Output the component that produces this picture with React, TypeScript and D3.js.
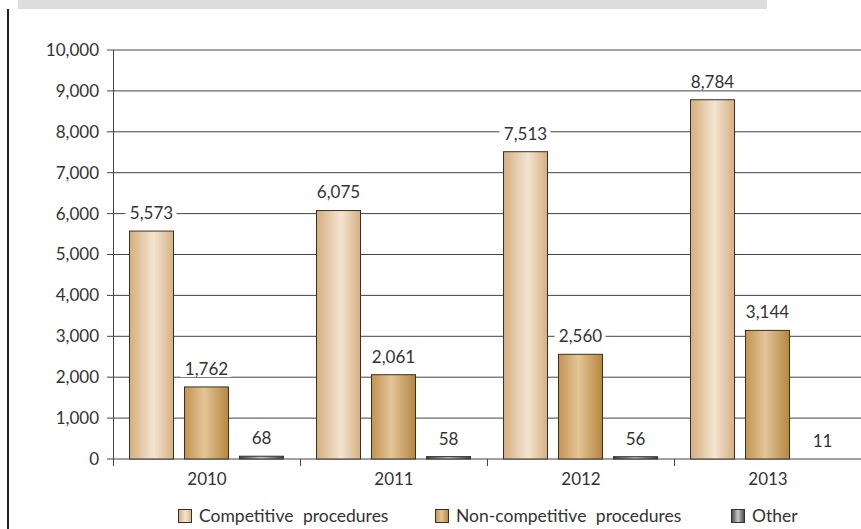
import React from "react";
import * as d3 from "d3";

const years = ["2010", "2011", "2012", "2013"];
const seriesNames = ["Competitive procedures", "Non-competitive procedures", "Other"];
const competitive = [5573, 6075, 7513, 8784];
const nonCompetitive = [1762, 2061, 2560, 3144];
const other = [68, 58, 56, 11];
const yTicks = [0, 1000, 2000, 3000, 4000, 5000, 6000, 7000, 8000, 9000, 10000];

const W = 861;
const H = 529;
const FONT = "Lato, 'Open Sans', sans-serif";
const TXT = "#333";

export default function App() {
  const x = d3.scaleBand().domain(years).range([113, 861]).paddingInner(0).paddingOuter(0);
  const y = d3.scaleLinear().domain([0, 10000]).range([459, 50]);
  const inner = d3.scaleBand().domain(["0", "1", "2"]).range([16, 170]).paddingInner(0.2).paddingOuter(0);
  const fmt = d3.format(",");
  const series = [competitive, nonCompetitive, other];
  const fills = ["url(#gComp)", "url(#gNon)", "url(#gOther)"];

  return (
    <svg width={W} height={H} style={{ position: "absolute", left: 0, top: 0, background: "#fff" }}>
      <defs>
        <linearGradient id="gComp" x1="0" x2="1" y1="0" y2="0">
          <stop offset="0" stopColor="#d5ae7f" />
          <stop offset="0.55" stopColor="#f3e5d0" />
          <stop offset="1" stopColor="#d6b083" />
        </linearGradient>
        <linearGradient id="gNon" x1="0" x2="1" y1="0" y2="0">
          <stop offset="0" stopColor="#c4934f" />
          <stop offset="0.45" stopColor="#e3c598" />
          <stop offset="1" stopColor="#b5873f" />
        </linearGradient>
        <linearGradient id="gOther" x1="0" x2="1" y1="0" y2="0">
          <stop offset="0" stopColor="#444" />
          <stop offset="0.5" stopColor="#c8c8c8" />
          <stop offset="1" stopColor="#444" />
        </linearGradient>
      </defs>
      <rect x={18} y={0} width={749} height={9} fill="#dcdddf" />
      <rect x={7} y={9} width={2} height={H - 9} fill="#222" />

      {yTicks.map((t) => (
        <g key={t}>
          <line x1={107} x2={W} y1={y(t)} y2={y(t)} stroke="#444" strokeWidth={1} />
          <text x={99} y={y(t)} dy="0.35em" textAnchor="end" fontFamily={FONT} fontSize={17} fill={TXT}>
            {fmt(t)}
          </text>
        </g>
      ))}
      <line x1={113.5} x2={113.5} y1={50} y2={466} stroke="#444" />
      {years.map((yr) => (
        <line key={yr} x1={x(yr)! + x.bandwidth() + 0.5} x2={x(yr)! + x.bandwidth() + 0.5} y1={459} y2={466} stroke="#444" />
      ))}

      {years.map((yr, i) =>
        series.map((s, j) => {
          const bx = x(yr)! + inner(String(j))!;
          const bw = inner.bandwidth();
          const top = y(s[i]);
          const h = y(0) - top;
          return (
            <g key={yr + j}>
              {h > 0.8 && (
                <rect x={bx + 0.5} y={top} width={bw} height={h} fill={fills[j]} stroke="#3a3026" strokeWidth={1} />
              )}
            </g>
          );
        })
      )}

      {years.map((yr, i) =>
        series.map((s, j) => {
          const bx = x(yr)! + inner(String(j))!;
          const bw = inner.bandwidth();
          const ly = y(s[i]) - 18;
          const label = fmt(s[i]);
          const tw = label.length * 9;
          return (
            <g key={"l" + yr + j}>
              <rect x={bx + bw / 2 - tw / 2 - 3} y={ly - 9} width={tw + 6} height={17} fill="#fff" />
              <text x={bx + bw / 2 + 0.5} y={ly} dy="0.35em" textAnchor="middle" fontFamily={FONT} fontSize={17} fill={TXT}>
                {label}
              </text>
            </g>
          );
        })
      )}

      {years.map((yr) => (
        <text key={"c" + yr} x={x(yr)! + x.bandwidth() / 2 + 0.5} y={479} dy="0.35em" textAnchor="middle" fontFamily={FONT} fontSize={17} fill={TXT}>
          {yr}
        </text>
      ))}

      {seriesNames.map((n, j) => {
        const lx = [178, 435, 731][j];
        return (
          <g key={n}>
            <rect x={lx + 0.5} y={509.5} width={13} height={13} fill={fills[j]} stroke="#3a3026" />
            <text x={lx + 21} y={516} dy="0.35em" fontFamily={FONT} fontSize={17.5} fill={TXT} wordSpacing={5}>
              {n}
            </text>
          </g>
        );
      })}
    </svg>
  );
}
